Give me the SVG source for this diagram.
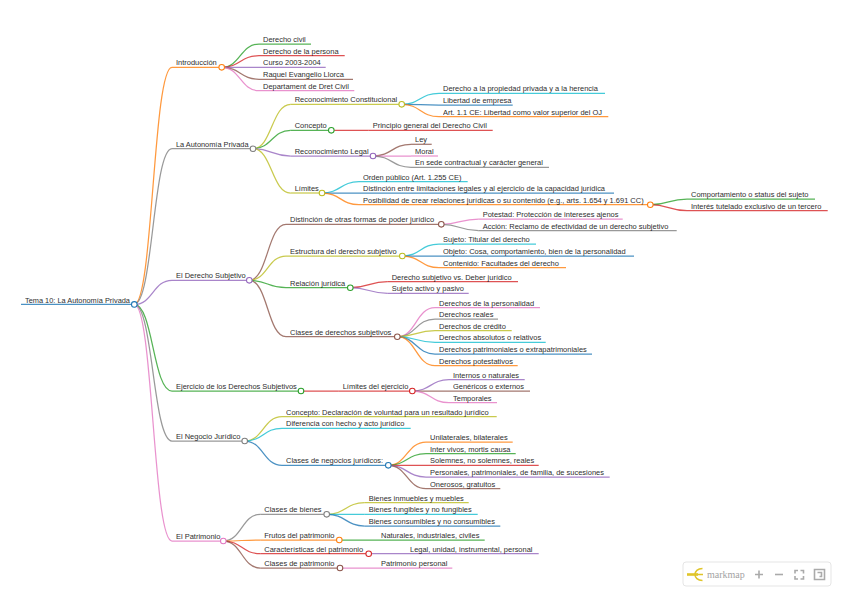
<svg xmlns="http://www.w3.org/2000/svg" width="848" height="603" viewBox="0 0 848 603">
<style>
.b{stroke:#1f77b4}.o{stroke:#ff7f0e}.g{stroke:#2ca02c}.r{stroke:#d62728}.p{stroke:#9467bd}.n{stroke:#8c564b}.k{stroke:#e377c2}.y{stroke:#7f7f7f}.l{stroke:#bcbd22}.c{stroke:#17becf}
path,line{fill:none;stroke-width:1.25;stroke-opacity:.8}
circle{fill:#fff;stroke-width:1.05;r:2.8px}
text{stroke:none;fill:#111;opacity:.9;font:16px "Liberation Sans",Arial,sans-serif;translate:0 .8px}
.ui{stroke:#aaa;stroke-width:1.6;fill:none;stroke-opacity:1}
</style>
<rect width="848" height="603" fill="#fff"/>
<g id="links">
<path class="o" d="M134.3 304.4C153 304.4 153 67.3 172 67.3"/>
<path class="y" d="M134.3 304.4C153 304.4 153 148.7 172 148.7"/>
<path class="p" d="M134.3 304.4C153 304.4 153 280.3 172 280.3"/>
<path class="g" d="M134.3 304.4C153 304.4 153 391 172 391"/>
<path class="y" d="M134.3 304.4C153 304.4 153 441 172 441"/>
<path class="k" d="M134.3 304.4C153 304.4 153 541 172 541"/>
<path class="g" d="M221.7 67.3C240.3 67.3 240.3 44 259 44"/>
<path class="r" d="M221.7 67.3C240.3 67.3 240.3 55.7 259 55.7"/>
<path class="p" d="M221.7 67.3H259"/>
<path class="n" d="M221.7 67.3C240.3 67.3 240.3 79.3 259 79.3"/>
<path class="k" d="M221.7 67.3C240.3 67.3 240.3 90.7 259 90.7"/>
<path class="l" d="M253 148.7C271.8 148.7 271.8 104.3 290.7 104.3"/>
<path class="g" d="M253 148.7C271.8 148.7 271.8 130.3 290.7 130.3"/>
<path class="p" d="M253 148.7C271.8 148.7 271.8 156 290.7 156"/>
<path class="l" d="M253 148.7C271.8 148.7 271.8 193 290.7 193"/>
<path class="c" d="M401.7 104.3C420.3 104.3 420.3 93.3 439 93.3"/>
<path class="b" d="M401.7 104.3C420.3 104.3 420.3 105 439 105"/>
<path class="o" d="M401.7 104.3C420.3 104.3 420.3 116.7 439 116.7"/>
<path class="r" d="M331.3 130.3H368.7"/>
<path class="n" d="M373 156C392 156 392 144.3 411 144.3"/>
<path class="k" d="M373 156H411"/>
<path class="y" d="M373 156C392 156 392 167.3 411 167.3"/>
<path class="c" d="M322 193C340.5 193 340.5 181.7 359 181.7"/>
<path class="b" d="M322 193H359"/>
<path class="o" d="M322 193C340.5 193 340.5 204.7 359 204.7"/>
<path class="g" d="M650.3 204.7C668.6 204.7 668.6 199 687 199"/>
<path class="r" d="M650.3 204.7C668.6 204.7 668.6 210.7 687 210.7"/>
<path class="n" d="M249.3 280.3C267.6 280.3 267.6 224.3 286 224.3"/>
<path class="l" d="M249.3 280.3C267.6 280.3 267.6 256 286 256"/>
<path class="g" d="M249.3 280.3C267.6 280.3 267.6 287.7 286 287.7"/>
<path class="n" d="M249.3 280.3C267.6 280.3 267.6 336.7 286 336.7"/>
<path class="k" d="M441.3 224.3C460 224.3 460 219 478.7 219"/>
<path class="y" d="M441.3 224.3C460 224.3 460 230.7 478.7 230.7"/>
<path class="c" d="M402.3 256C420.6 256 420.6 244 439 244"/>
<path class="b" d="M402.3 256H439"/>
<path class="o" d="M402.3 256C420.6 256 420.6 267.7 439 267.7"/>
<path class="r" d="M350.3 287.7C369 287.7 369 281.7 387.7 281.7"/>
<path class="p" d="M350.3 287.7C369 287.7 369 293.3 387.7 293.3"/>
<path class="k" d="M397.3 336.7C416 336.7 416 307.7 435 307.7"/>
<path class="y" d="M397.3 336.7C416 336.7 416 319 435 319"/>
<path class="l" d="M397.3 336.7C416 336.7 416 330.7 435 330.7"/>
<path class="c" d="M397.3 336.7C416 336.7 416 342.3 435 342.3"/>
<path class="b" d="M397.3 336.7C416 336.7 416 354 435 354"/>
<path class="o" d="M397.3 336.7C416 336.7 416 365.7 435 365.7"/>
<path class="r" d="M301 391H338.7"/>
<path class="p" d="M412.3 391C430.6 391 430.6 379.7 449 379.7"/>
<path class="n" d="M412.3 391H449"/>
<path class="k" d="M412.3 391C430.6 391 430.6 402.7 449 402.7"/>
<path class="l" d="M244.7 441C263.3 441 263.3 416.7 282 416.7"/>
<path class="c" d="M244.7 441C263.3 441 263.3 428.3 282 428.3"/>
<path class="b" d="M244.7 441C263.3 441 263.3 465.3 282 465.3"/>
<path class="o" d="M388.3 465.3C407 465.3 407 442 426 442"/>
<path class="g" d="M388.3 465.3C407 465.3 407 453.7 426 453.7"/>
<path class="r" d="M388.3 465.3H426"/>
<path class="p" d="M388.3 465.3C407 465.3 407 477 426 477"/>
<path class="n" d="M388.3 465.3C407 465.3 407 488.7 426 488.7"/>
<path class="y" d="M223.3 541C241.8 541 241.8 514.3 260.3 514.3"/>
<path class="o" d="M223.3 541C241.8 541 241.8 540 260.3 540"/>
<path class="r" d="M223.3 541C241.8 541 241.8 553.7 260.3 553.7"/>
<path class="n" d="M223.3 541C241.8 541 241.8 568 260.3 568"/>
<path class="l" d="M326.7 514.3C345.7 514.3 345.7 502.7 364.7 502.7"/>
<path class="c" d="M326.7 514.3H364.7"/>
<path class="b" d="M326.7 514.3C345.7 514.3 345.7 526 364.7 526"/>
<path class="g" d="M339.3 540H377"/>
<path class="p" d="M368.7 553.7H406"/>
<path class="k" d="M340 568H377"/>
</g>
<g id="root" class="b"><line x1="21" y1="304.4" x2="134.3" y2="304.4"/><circle cx="134.3" cy="304.4" r="2.8"/><text transform="translate(25 301.7) scale(.462)">Tema 10: La Autonomía Privada</text></g>
<g id="n1" class="o"><line x1="172" y1="67.3" x2="221.7" y2="67.3"/><circle cx="221.7" cy="67.3" r="2.8"/><text transform="translate(176 64.6) scale(.467)">Introducción</text></g>
<g id="n1-1" class="g"><line x1="259" y1="44" x2="311" y2="44"/><text transform="translate(263 41.3) scale(.467)">Derecho civil</text></g>
<g id="n1-2" class="r"><line x1="259" y1="55.7" x2="344.7" y2="55.7"/><text transform="translate(263 53) scale(.467)">Derecho de la persona</text></g>
<g id="n1-3" class="p"><line x1="259" y1="67.3" x2="325.7" y2="67.3"/><text transform="translate(263 64.6) scale(.467)">Curso 2003-2004</text></g>
<g id="n1-4" class="n"><line x1="259" y1="79.3" x2="353" y2="79.3"/><text transform="translate(263 76.6) scale(.467)">Raquel Evangelio Llorca</text></g>
<g id="n1-5" class="k"><line x1="259" y1="90.7" x2="354.3" y2="90.7"/><text transform="translate(263 88) scale(.467)">Departament de Dret Civil</text></g>
<g id="n2" class="y"><line x1="172" y1="148.7" x2="253" y2="148.7"/><circle cx="253" cy="148.7" r="2.8"/><text transform="translate(176 146) scale(.462)">La Autonomía Privada</text></g>
<g id="n2-1" class="l"><line x1="290.7" y1="104.3" x2="401.7" y2="104.3"/><circle cx="401.7" cy="104.3" r="2.8"/><text transform="translate(294.7 101.6) scale(.467)">Reconocimiento Constitucional</text></g>
<g id="n2-1-1" class="c"><line x1="439" y1="93.3" x2="605" y2="93.3"/><text transform="translate(443 90.6) scale(.467)">Derecho a la propiedad privada y a la herencia</text></g>
<g id="n2-1-2" class="b"><line x1="439" y1="105" x2="512.7" y2="105"/><text transform="translate(443 102.3) scale(.467)">Libertad de empresa</text></g>
<g id="n2-1-3" class="o"><line x1="439" y1="116.7" x2="608.3" y2="116.7"/><text transform="translate(443 114) scale(.467)">Art. 1.1 CE: Libertad como valor superior del OJ</text></g>
<g id="n2-2" class="g"><line x1="290.7" y1="130.3" x2="331.3" y2="130.3"/><circle cx="331.3" cy="130.3" r="2.8"/><text transform="translate(294.7 127.6) scale(.467)">Concepto</text></g>
<g id="n2-2-1" class="r"><line x1="368.7" y1="130.3" x2="492.7" y2="130.3"/><text transform="translate(372.7 127.6) scale(.467)">Principio general del Derecho Civil</text></g>
<g id="n2-3" class="p"><line x1="290.7" y1="156" x2="373" y2="156"/><circle cx="373" cy="156" r="2.8"/><text transform="translate(294.7 153.3) scale(.467)">Reconocimiento Legal</text></g>
<g id="n2-3-1" class="n"><line x1="411" y1="144.3" x2="431.7" y2="144.3"/><text transform="translate(415 141.6) scale(.467)">Ley</text></g>
<g id="n2-3-2" class="k"><line x1="411" y1="156" x2="438" y2="156"/><text transform="translate(415 153.3) scale(.467)">Moral</text></g>
<g id="n2-3-3" class="y"><line x1="411" y1="167.3" x2="549" y2="167.3"/><text transform="translate(415 164.6) scale(.467)">En sede contractual y carácter general</text></g>
<g id="n2-4" class="l"><line x1="290.7" y1="193" x2="322" y2="193"/><circle cx="322" cy="193" r="2.8"/><text transform="translate(294.7 190.3) scale(.467)">Límites</text></g>
<g id="n2-4-1" class="c"><line x1="359" y1="181.7" x2="467.7" y2="181.7"/><text transform="translate(363 179) scale(.467)">Orden público (Art. 1.255 CE)</text></g>
<g id="n2-4-2" class="b"><line x1="359" y1="193" x2="614" y2="193"/><text transform="translate(363 190.3) scale(.467)">Distinción entre limitaciones legales y al ejercicio de la capacidad jurídica</text></g>
<g id="n2-4-3" class="o"><line x1="359" y1="204.7" x2="650.3" y2="204.7"/><circle cx="650.3" cy="204.7" r="2.8"/><text transform="translate(363 202) scale(.467)">Posibilidad de crear relaciones jurídicas o su contenido (e.g., arts. 1.654 y 1.691 CC)</text></g>
<g id="n2-4-3-1" class="g"><line x1="687" y1="199" x2="815" y2="199"/><text transform="translate(691 196.3) scale(.467)">Comportamiento o status del sujeto</text></g>
<g id="n2-4-3-2" class="r"><line x1="687" y1="210.7" x2="827.7" y2="210.7"/><text transform="translate(691 208) scale(.467)">Interés tutelado exclusivo de un tercero</text></g>
<g id="n3" class="p"><line x1="172" y1="280.3" x2="249.3" y2="280.3"/><circle cx="249.3" cy="280.3" r="2.8"/><text transform="translate(176 277.6) scale(.467)">El Derecho Subjetivo</text></g>
<g id="n3-1" class="n"><line x1="286" y1="224.3" x2="441.3" y2="224.3"/><circle cx="441.3" cy="224.3" r="2.8"/><text transform="translate(290 221.6) scale(.467)">Distinción de otras formas de poder jurídico</text></g>
<g id="n3-1-1" class="k"><line x1="478.7" y1="219" x2="622.7" y2="219"/><text transform="translate(482.7 216.3) scale(.467)">Potestad: Protección de intereses ajenos</text></g>
<g id="n3-1-2" class="y"><line x1="478.7" y1="230.7" x2="676.7" y2="230.7"/><text transform="translate(482.7 228) scale(.467)">Acción: Reclamo de efectividad de un derecho subjetivo</text></g>
<g id="n3-2" class="l"><line x1="286" y1="256" x2="402.3" y2="256"/><circle cx="402.3" cy="256" r="2.8"/><text transform="translate(290 253.3) scale(.467)">Estructura del derecho subjetivo</text></g>
<g id="n3-2-1" class="c"><line x1="439" y1="244" x2="536" y2="244"/><text transform="translate(443 241.3) scale(.467)">Sujeto: Titular del derecho</text></g>
<g id="n3-2-2" class="b"><line x1="439" y1="256" x2="634" y2="256"/><text transform="translate(443 253.3) scale(.467)">Objeto: Cosa, comportamiento, bien de la personalidad</text></g>
<g id="n3-2-3" class="o"><line x1="439" y1="267.7" x2="566" y2="267.7"/><text transform="translate(443 265) scale(.467)">Contenido: Facultades del derecho</text></g>
<g id="n3-3" class="g"><line x1="286" y1="287.7" x2="350.3" y2="287.7"/><circle cx="350.3" cy="287.7" r="2.8"/><text transform="translate(290 285) scale(.467)">Relación jurídica</text></g>
<g id="n3-3-1" class="r"><line x1="387.7" y1="281.7" x2="518" y2="281.7"/><text transform="translate(391.7 279) scale(.467)">Derecho subjetivo vs. Deber jurídico</text></g>
<g id="n3-3-2" class="p"><line x1="387.7" y1="293.3" x2="468.7" y2="293.3"/><text transform="translate(391.7 290.6) scale(.467)">Sujeto activo y pasivo</text></g>
<g id="n3-4" class="n"><line x1="286" y1="336.7" x2="397.3" y2="336.7"/><circle cx="397.3" cy="336.7" r="2.8"/><text transform="translate(290 334) scale(.467)">Clases de derechos subjetivos</text></g>
<g id="n3-4-1" class="k"><line x1="435" y1="307.7" x2="540" y2="307.7"/><text transform="translate(439 305) scale(.467)">Derechos de la personalidad</text></g>
<g id="n3-4-2" class="y"><line x1="435" y1="319" x2="498" y2="319"/><text transform="translate(439 316.3) scale(.467)">Derechos reales</text></g>
<g id="n3-4-3" class="l"><line x1="435" y1="330.7" x2="511.7" y2="330.7"/><text transform="translate(439 328) scale(.467)">Derechos de crédito</text></g>
<g id="n3-4-4" class="c"><line x1="435" y1="342.3" x2="545.7" y2="342.3"/><text transform="translate(439 339.6) scale(.467)">Derechos absolutos o relativos</text></g>
<g id="n3-4-5" class="b"><line x1="435" y1="354" x2="592" y2="354"/><text transform="translate(439 351.3) scale(.467)">Derechos patrimoniales o extrapatrimoniales</text></g>
<g id="n3-4-6" class="o"><line x1="435" y1="365.7" x2="517.7" y2="365.7"/><text transform="translate(439 363) scale(.467)">Derechos potestativos</text></g>
<g id="n4" class="g"><line x1="172" y1="391" x2="301" y2="391"/><circle cx="301" cy="391" r="2.8"/><text transform="translate(176 388.3) scale(.467)">Ejercicio de los Derechos Subjetivos</text></g>
<g id="n4-1" class="r"><line x1="338.7" y1="391" x2="412.3" y2="391"/><circle cx="412.3" cy="391" r="2.8"/><text transform="translate(342.7 388.3) scale(.467)">Límites del ejercicio</text></g>
<g id="n4-1-1" class="p"><line x1="449" y1="379.7" x2="524.7" y2="379.7"/><text transform="translate(453 377) scale(.467)">Internos o naturales</text></g>
<g id="n4-1-2" class="n"><line x1="449" y1="391" x2="530" y2="391"/><text transform="translate(453 388.3) scale(.467)">Genéricos o externos</text></g>
<g id="n4-1-3" class="k"><line x1="449" y1="402.7" x2="497" y2="402.7"/><text transform="translate(453 400) scale(.467)">Temporales</text></g>
<g id="n5" class="y"><line x1="172" y1="441" x2="244.7" y2="441"/><circle cx="244.7" cy="441" r="2.8"/><text transform="translate(176 438.3) scale(.467)">El Negocio Jurídico</text></g>
<g id="n5-1" class="l"><line x1="282" y1="416.7" x2="496.7" y2="416.7"/><text transform="translate(286 414) scale(.467)">Concepto: Declaración de voluntad para un resultado jurídico</text></g>
<g id="n5-2" class="c"><line x1="282" y1="428.3" x2="410.7" y2="428.3"/><text transform="translate(286 425.6) scale(.467)">Diferencia con hecho y acto jurídico</text></g>
<g id="n5-3" class="b"><line x1="282" y1="465.3" x2="388.3" y2="465.3"/><circle cx="388.3" cy="465.3" r="2.8"/><text transform="translate(286 462.6) scale(.467)">Clases de negocios jurídicos:</text></g>
<g id="n5-3-1" class="o"><line x1="426" y1="442" x2="512.7" y2="442"/><text transform="translate(430 439.3) scale(.467)">Unilaterales, bilaterales</text></g>
<g id="n5-3-2" class="g"><line x1="426" y1="453.7" x2="515.7" y2="453.7"/><text transform="translate(430 451) scale(.467)">Inter vivos, mortis causa</text></g>
<g id="n5-3-3" class="r"><line x1="426" y1="465.3" x2="538.7" y2="465.3"/><text transform="translate(430 462.6) scale(.467)">Solemnes, no solemnes, reales</text></g>
<g id="n5-3-4" class="p"><line x1="426" y1="477" x2="609.7" y2="477"/><text transform="translate(430 474.3) scale(.467)">Personales, patrimoniales, de familia, de sucesiones</text></g>
<g id="n5-3-5" class="n"><line x1="426" y1="488.7" x2="500.3" y2="488.7"/><text transform="translate(430 486) scale(.467)">Onerosos, gratuitos</text></g>
<g id="n6" class="k"><line x1="172" y1="541" x2="223.3" y2="541"/><circle cx="223.3" cy="541" r="2.8"/><text transform="translate(176 538.3) scale(.467)">El Patrimonio</text></g>
<g id="n6-1" class="y"><line x1="260.3" y1="514.3" x2="326.7" y2="514.3"/><circle cx="326.7" cy="514.3" r="2.8"/><text transform="translate(264.3 511.6) scale(.467)">Clases de bienes</text></g>
<g id="n6-1-1" class="l"><line x1="364.7" y1="502.7" x2="468.7" y2="502.7"/><text transform="translate(368.7 500) scale(.467)">Bienes inmuebles y muebles</text></g>
<g id="n6-1-2" class="c"><line x1="364.7" y1="514.3" x2="477.7" y2="514.3"/><text transform="translate(368.7 511.6) scale(.467)">Bienes fungibles y no fungibles</text></g>
<g id="n6-1-3" class="b"><line x1="364.7" y1="526" x2="500.3" y2="526"/><text transform="translate(368.7 523.3) scale(.467)">Bienes consumibles y no consumibles</text></g>
<g id="n6-2" class="o"><line x1="260.3" y1="540" x2="339.3" y2="540"/><circle cx="339.3" cy="540" r="2.8"/><text transform="translate(264.3 537.3) scale(.467)">Frutos del patrimonio</text></g>
<g id="n6-2-1" class="g"><line x1="377" y1="540" x2="484.7" y2="540"/><text transform="translate(381 537.3) scale(.467)">Naturales, industriales, civiles</text></g>
<g id="n6-3" class="r"><line x1="260.3" y1="553.7" x2="368.7" y2="553.7"/><circle cx="368.7" cy="553.7" r="2.8"/><text transform="translate(264.3 551) scale(.467)">Características del patrimonio</text></g>
<g id="n6-3-1" class="p"><line x1="406" y1="553.7" x2="538.7" y2="553.7"/><text transform="translate(410 551) scale(.467)">Legal, unidad, instrumental, personal</text></g>
<g id="n6-4" class="n"><line x1="260.3" y1="568" x2="340" y2="568"/><circle cx="340" cy="568" r="2.8"/><text transform="translate(264.3 565.3) scale(.467)">Clases de patrimonio</text></g>
<g id="n6-4-1" class="k"><line x1="377" y1="568" x2="452.3" y2="568"/><text transform="translate(381 565.3) scale(.467)">Patrimonio personal</text></g>
<g id="toolbar">
<rect x="683" y="562" width="148" height="24" rx="3" fill="#fff" stroke="#e5e5e5"/>
<path d="M687 574.500H698" style="stroke:#e0c52a;stroke-width:2.600;stroke-opacity:1"/>
<path d="M702.500 568.500C692.500 568.500 692.500 580.500 702.500 580.500M694 574.500H703" style="stroke:#e0c52a;stroke-width:1.500;stroke-opacity:1"/>
<text x="707" y="578" style="font:10px 'Liberation Serif',serif;fill:#999;translate:none">markmap</text>
<path class="ui" d="M755 574.500h8M759 570.500v8"/>
<path class="ui" d="M775 574.500h8"/>
<path class="ui" d="M795 573.500v-3h3M800.500 570.500h3v3M803.500 576v3h-3M798 579h-3v-3"/>
<path class="ui" d="M814.500 579.500v-10h10v10zM817.500 572.500h4v4h-2"/>
</g>
</svg>
